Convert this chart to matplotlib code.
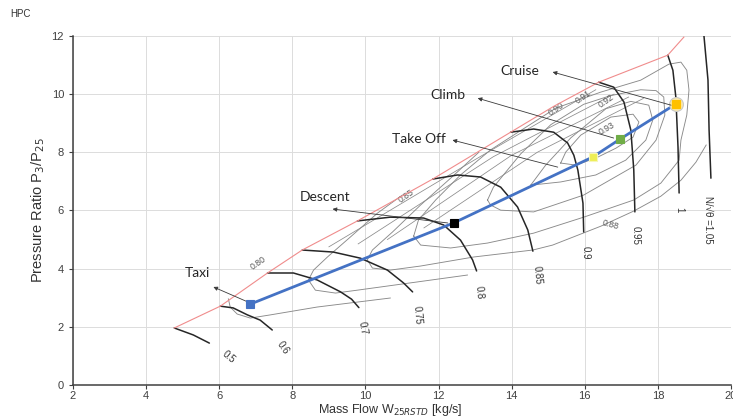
import matplotlib
matplotlib.use("Agg")
import matplotlib.pyplot as plt

# ---- corrected speed lines: mass flow W25RSTD [kg/s] vs pressure ratio P3/P25
n050_w, n050_pr = [4.77, 5.29, 5.73], [1.96, 1.72, 1.44]
n060_w, n060_pr = [6.03, 6.38, 6.77, 7.12, 7.45], [2.71, 2.65, 2.41, 2.23, 1.89]
n070_w, n070_pr = [7.32, 8.03, 8.68, 9.32, 9.62, 9.82], [3.85, 3.85, 3.61, 3.20, 2.95, 2.66]
n075_w, n075_pr = [8.27, 9.12, 9.86, 10.60, 11.04, 11.29], [4.64, 4.57, 4.36, 3.95, 3.51, 3.20]
n080_w, n080_pr = [9.78, 10.68, 11.59, 12.14, 12.60, 12.93, 13.04], [5.64, 5.77, 5.74, 5.50, 4.98, 4.30, 3.92]
n085_w, n085_pr = [11.84, 12.52, 13.15, 13.70, 14.16, 14.44, 14.58], [7.08, 7.22, 7.15, 6.80, 6.12, 5.33, 4.60]
n090_w, n090_pr = [13.97, 14.60, 15.15, 15.53, 15.70, 15.81, 15.95, 15.97], [8.69, 8.80, 8.69, 8.32, 7.90, 7.39, 6.25, 5.26]
n095_w, n095_pr = [16.38, 16.79, 17.07, 17.26, 17.34, 17.37], [10.41, 10.24, 9.73, 8.76, 7.39, 5.95]
n100_w, n100_pr = [18.27, 18.41, 18.49, 18.55, 18.58], [11.34, 10.82, 9.90, 8.18, 6.60]
n105_w, n105_pr = [19.26, 19.37, 19.40, 19.45], [12.00, 10.48, 8.76, 7.11]

speed_text = ["0.5", "0.6", "0.7", "0.75", "0.8", "0.85", "0.9", "0.95", "1", "N/\u221a\u03b8 =1.05"]
speed_text_w = [6.25, 7.75, 9.92, 11.42, 13.10, 14.71, 16.03, 17.40, 18.58, 19.37]
speed_text_pr = [0.96, 1.27, 1.96, 2.41, 3.20, 3.78, 4.54, 5.15, 6.01, 5.67]
speed_text_rot = [-40, -55, -80, -85, -85, -85, -90, -90, -90, -90]

# ---- surge line
surge_w = [4.77, 6.03, 7.32, 8.27, 9.78, 11.84, 13.97, 15.15, 16.38, 18.27, 18.71]
surge_pr = [1.96, 2.71, 3.85, 4.64, 5.64, 7.08, 8.69, 9.58, 10.41, 11.34, 11.96]

# ---- isentropic efficiency contours
eff080_w = [6.25, 6.30, 6.49, 6.85, 7.40, 8.68, 10.68]
eff080_pr = [2.96, 2.68, 2.44, 2.30, 2.41, 2.68, 2.99]
eff085_w = [11.01, 10.33, 9.59, 8.96, 8.58, 8.44, 8.63, 9.18, 9.78, 11.23, 12.79]
eff085_pr = [6.53, 5.91, 5.09, 4.40, 3.95, 3.61, 3.26, 3.16, 3.26, 3.51, 3.78]
eff088_w = [13.10, 12.33, 11.51, 10.74, 10.19, 10.05, 10.19, 10.68, 11.51, 12.96, 14.58,
            15.12, 16.44, 17.34, 18.08, 18.63, 19.04, 19.32]
eff088_pr = [8.00, 7.11, 6.19, 5.26, 4.64, 4.30, 4.02, 3.95, 4.09, 4.40, 4.64,
             4.81, 5.46, 5.98, 6.49, 7.04, 7.66, 8.25]
eff090_w = [11.32, 11.45, 11.92, 12.60, 13.42, 14.25, 15.21, 16.44, 17.53, 18.30, 18.63, 18.79,
            18.85, 18.79, 18.63, 18.58, 18.08, 17.34, 15.97, 14.60, 13.34, 12.33, 11.51, 11.32]
eff090_pr = [5.12, 5.67, 6.36, 7.22, 8.08, 8.75, 9.52, 10.07, 10.48, 11.03, 11.10, 10.82,
             10.14, 9.28, 8.42, 7.73, 6.94, 6.36, 5.77, 5.22, 4.88, 4.71, 4.81, 5.12]
eff091_w = [13.34, 13.50, 14.25, 15.07, 15.97, 16.71, 17.53, 17.95, 18.16, 18.19, 17.95, 17.40,
            15.97, 14.60, 13.70, 13.42, 13.34]
eff091_pr = [6.36, 6.80, 7.95, 8.95, 9.65, 9.95, 10.15, 10.12, 9.90, 9.28, 8.42, 7.56,
             6.53, 5.95, 6.01, 6.19, 6.36]
eff092_w = [14.52, 14.93, 15.62, 16.58, 17.26, 17.75, 17.86, 17.67, 17.12, 16.30, 15.34, 14.52]
eff092_pr = [6.87, 7.56, 8.50, 9.50, 9.75, 9.62, 9.11, 8.42, 7.73, 7.22, 6.98, 6.87]
eff093_w = [15.34, 15.48, 15.89, 16.71, 17.32, 17.48, 17.32, 16.85, 16.30, 15.75, 15.34]
eff093_pr = [7.63, 8.01, 8.59, 9.21, 9.31, 9.04, 8.52, 8.14, 7.80, 7.56, 7.63]

eff_text = ["0.80", "0.85", "0.88", "0.90", "0.91", "0.92", "0.93"]
eff_text_w = [7.07, 11.12, 16.71, 15.21, 15.97, 16.58, 16.60]
eff_text_pr = [4.19, 6.49, 5.50, 9.48, 9.90, 9.76, 8.83]
eff_text_rot = [35, 35, -15, 35, 35, 35, 30]

# ---- beta (auxiliary) lines
beta1_w, beta1_pr = [9.0, 13.0, 16.3], [4.75, 7.75, 10.15]
beta2_w, beta2_pr = [9.8, 13.5, 16.8], [4.85, 7.85, 10.00]
beta3_w, beta3_pr = [10.6, 14.0, 17.2], [5.00, 7.90, 9.90]
beta4_w, beta4_pr = [11.6, 14.7, 17.6], [5.40, 8.00, 9.85]

# ---- mission operating points
op_names = ["Taxi", "Descent", "Take Off", "Climb", "Cruise"]
op_w = [6.85, 12.41, 16.22, 16.96, 18.49]
op_pr = [2.78, 5.57, 7.84, 8.45, 9.66]
op_colors = ["#4472c4", "#000000", "#eeee55", "#70ad47", "#ffc000"]
name_w = [5.40, 8.90, 11.45, 12.25, 14.22]
name_pr = [3.85, 6.46, 8.45, 9.97, 10.79]
head_w = [5.84, 9.10, 12.38, 13.07, 15.12]
head_pr = [3.37, 6.05, 8.42, 9.86, 10.76]
tail_w = [6.79, 12.25, 15.26, 16.79, 18.36]
tail_pr = [2.85, 5.57, 7.49, 8.49, 9.62]

fig = plt.figure(figsize=(7.33, 4.18), dpi=100)
ax = fig.add_axes([0.0996, 0.079, 0.8977, 0.835])

ax.set_xlim(2, 20)
ax.set_ylim(0, 12)
ax.set_xticks(range(2, 21, 2))
ax.set_yticks(range(0, 13, 2))
ax.grid(color="#dcdcdc", lw=0.7)
ax.set_axisbelow(True)
for s in ("top", "right"):
    ax.spines[s].set_visible(False)
for s in ("left", "bottom"):
    ax.spines[s].set_color("#404040")
    ax.spines[s].set_linewidth(1.1)
ax.tick_params(colors="#404040", labelsize=8, length=3, width=0.8)
ax.tick_params(axis="x", pad=1.5)
for lab in ax.get_xticklabels() + ax.get_yticklabels():
    lab.set_family("Liberation Sans")

grey = "#8a8a8a"
for w, pr in [(beta1_w, beta1_pr), (beta2_w, beta2_pr), (beta3_w, beta3_pr), (beta4_w, beta4_pr)]:
    ax.plot(w, pr, color=grey, lw=0.55, zorder=2)

for w, pr in [(eff080_w, eff080_pr), (eff085_w, eff085_pr), (eff088_w, eff088_pr),
              (eff090_w, eff090_pr), (eff091_w, eff091_pr), (eff092_w, eff092_pr),
              (eff093_w, eff093_pr)]:
    ax.plot(w, pr, color=grey, lw=0.65, zorder=2)

for t, x, y, r in zip(eff_text, eff_text_w, eff_text_pr, eff_text_rot):
    ax.text(x, y, t, fontsize=6.3, color="#555555", rotation=r, ha="center", va="center",
            family="Liberation Sans", zorder=3)

speed_curves = [(n050_w, n050_pr), (n060_w, n060_pr), (n070_w, n070_pr), (n075_w, n075_pr),
                (n080_w, n080_pr), (n085_w, n085_pr), (n090_w, n090_pr), (n095_w, n095_pr),
                (n100_w, n100_pr), (n105_w, n105_pr)]
for w, pr in speed_curves:
    ax.plot(w, pr, color="#262626", lw=1.1, zorder=3, solid_capstyle="round")

for t, x, y, r in zip(speed_text, speed_text_w, speed_text_pr, speed_text_rot):
    ax.text(x, y, t, fontsize=7, color="#333333", rotation=r, ha="center", va="center",
            family="Liberation Sans", zorder=3)

ax.plot(surge_w, surge_pr, color="#f08c8c", lw=0.8, zorder=3)

# operating line through the mission points
ax.plot(op_w, op_pr, color="#4472c4", lw=2.0, zorder=4)
ax.plot(op_w[4], op_pr[4], "o", ms=10, mfc="#fbe8a6", mec="#c9c9c9", mew=0.8, zorder=5)
for i in range(len(op_w)):
    edge = "#f6f6b8" if i == 2 else op_colors[i]
    ax.plot(op_w[i], op_pr[i], "s", ms=5.5, mfc=op_colors[i], mec=edge, mew=0.8, zorder=6)

for i, name in enumerate(op_names):
    ax.annotate("", xy=(head_w[i], head_pr[i]), xytext=(tail_w[i], tail_pr[i]),
                arrowprops=dict(arrowstyle="-|>", color="#3a3a3a", lw=0.6,
                                mutation_scale=6, shrinkA=0, shrinkB=0), zorder=5)
    ax.text(name_w[i], name_pr[i], name, fontsize=10, family="Lato", color="#262626",
            ha="center", va="center", zorder=6)

ax.set_xlabel("Mass Flow W$_{25RSTD}$ [kg/s]", fontsize=9, color="#333333",
              family="Liberation Sans")
ax.xaxis.set_label_coords(0.482, -0.05)
ax.set_ylabel("Pressure Ratio P$_3$/P$_{25}$", fontsize=10.5, color="#333333",
              family="Liberation Sans")
ax.yaxis.set_label_coords(-0.04, 0.5)

fig.text(0.014, 0.967, "HPC", fontsize=7, color="#333333", family="Liberation Sans",
         ha="left", va="center")

fig.savefig("out.png", dpi=100)
